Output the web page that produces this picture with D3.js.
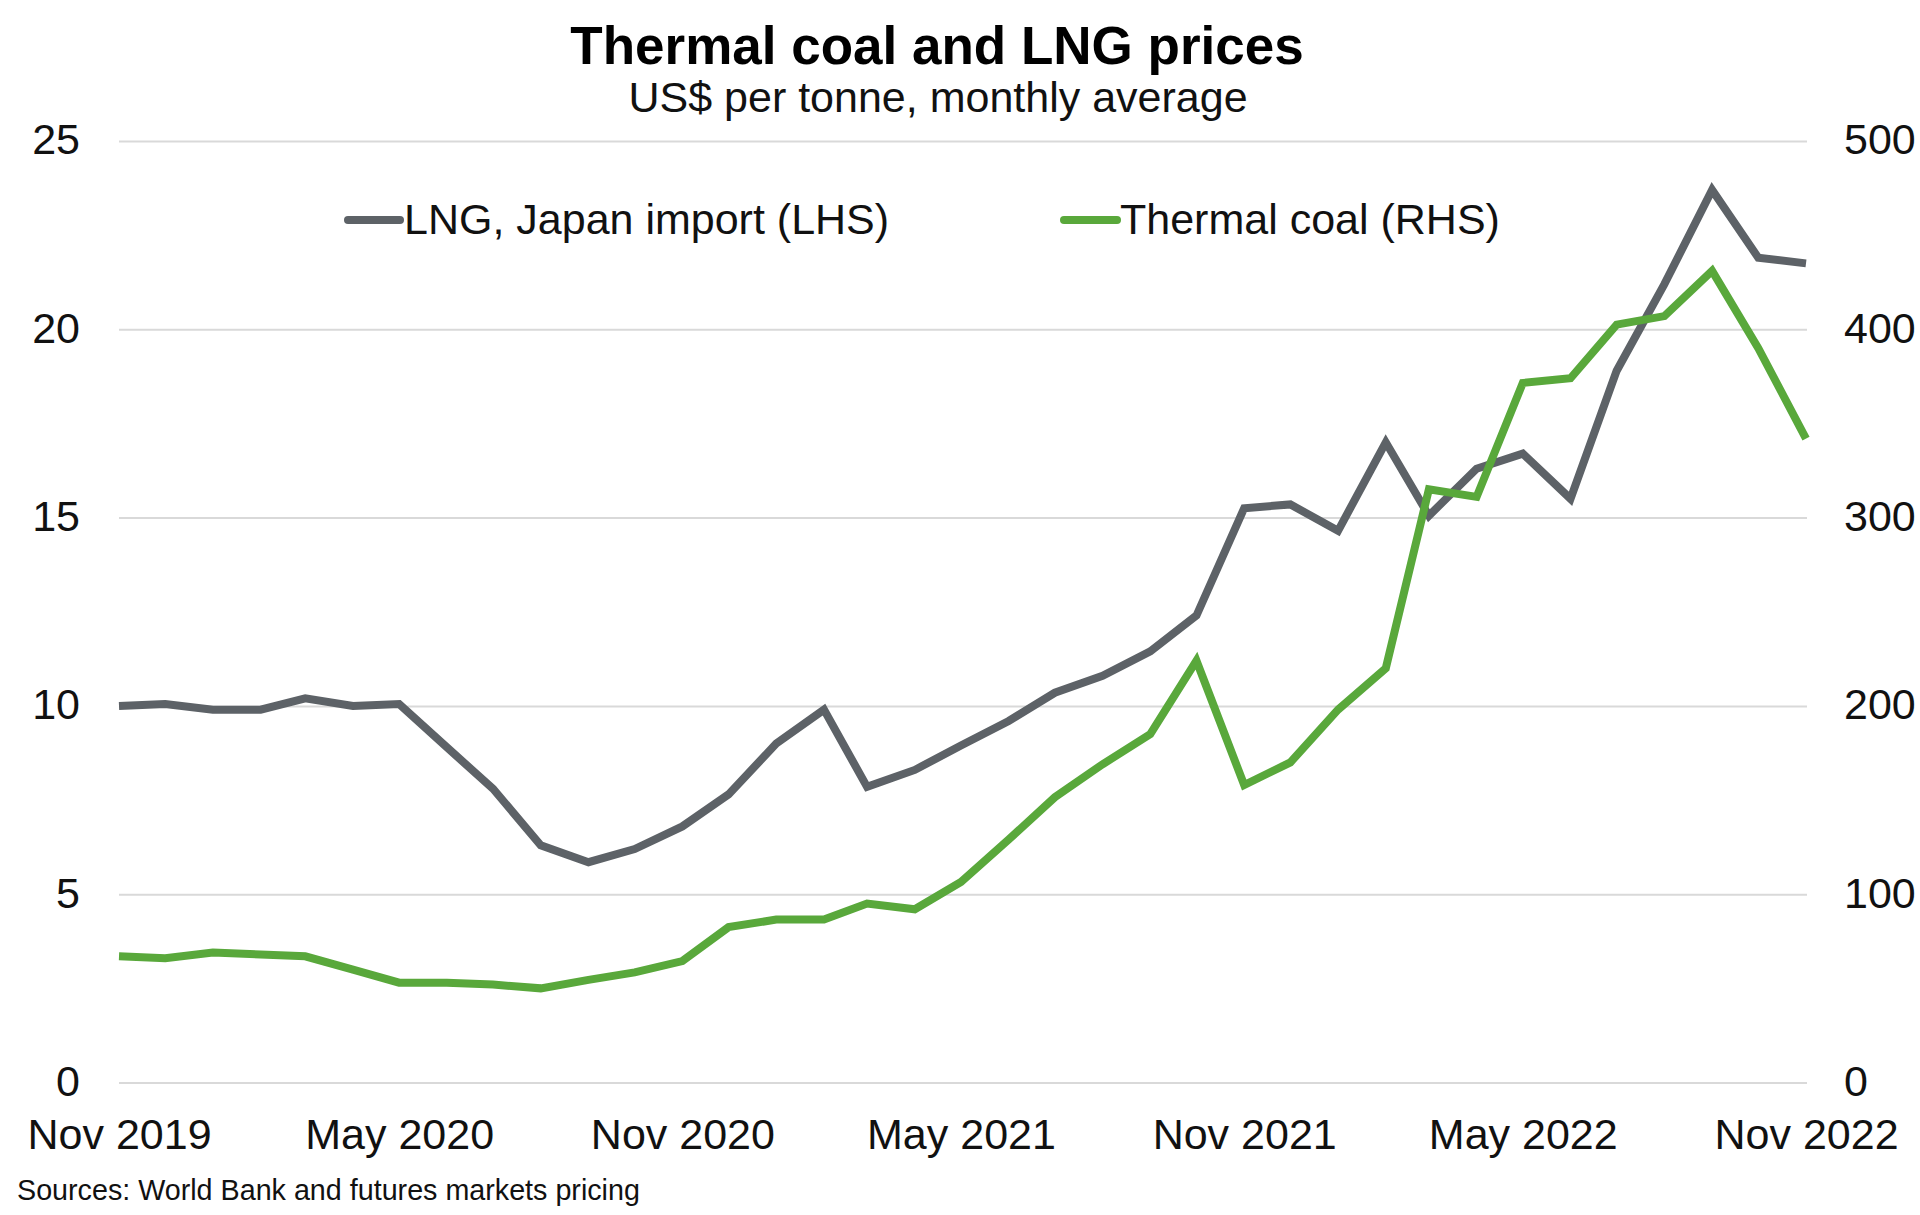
<!DOCTYPE html>
<html>
<head>
<meta charset="utf-8">
<script src="https://cdn.jsdelivr.net/npm/d3@7/dist/d3.min.js"></script>
<style>
  html, body { margin: 0; padding: 0; background: #fff; }
  svg { display: block; font-family: "Liberation Sans", Arial, sans-serif; }
</style>
</head>
<body>
<svg id="chart" width="1920" height="1215"></svg>
<script>
// ---- Data ----
const startMonth = "2019-11";
const lngValues = [
  10.0, 10.05, 9.9, 9.9, 10.2, 10.0, 10.05, 8.9, 7.8, 6.3, 5.85, 6.2,
  6.8, 7.65, 9.0, 9.9, 7.85, 8.3, 8.95, 9.6, 10.35, 10.8, 11.45, 12.4,
  15.25, 15.35, 14.65, 17.0, 15.05, 16.3, 16.7, 15.5, 18.9, 21.2, 23.7, 21.9, 21.75
];
const coalValues = [
  67, 66, 69, 68, 67, 60, 53, 53, 52, 50, 54.5, 58.5,
  64.5, 82.5, 86.5, 86.5, 95, 92, 106.5, 129, 151.5, 169, 185, 224,
  158, 170, 198, 220, 315, 311, 371.5, 374, 402.5, 407, 431, 390, 342
];
const xTickLabels = ["Nov 2019", "May 2020", "Nov 2020", "May 2021", "Nov 2021", "May 2022", "Nov 2022"];
const leftTicks = [0, 5, 10, 15, 20, 25];
const rightTicks = [0, 100, 200, 300, 400, 500];
const seriesNames = ["LNG, Japan import (LHS)", "Thermal coal (RHS)"];
const titleText = "Thermal coal and LNG prices";
const subtitleText = "US$ per tonne, monthly average";
const sourceText = "Sources: World Bank and futures markets pricing";

(function () {
// ---- Layout ----
const pL = 119, pR = 1806, pT = 141, pB = 1082.5;
const colLNG = "#5d6267", colCoal = "#59a83b", gridCol = "#d9d9d9";
const fontFam = "'Liberation Sans', Arial, sans-serif";

const parseMonth = d3.timeParse("%Y-%m");
const start = parseMonth(startMonth);
const dates = lngValues.map((_, i) => d3.timeMonth.offset(start, i));
const tickDates = xTickLabels.map(s => d3.timeParse("%b %Y")(s));

const x = d3.scaleTime().domain([dates[0], dates[dates.length - 1]]).range([pL, pR]);
const yL = d3.scaleLinear().domain([0, 25]).range([pB, pT]);
const yR = d3.scaleLinear().domain([0, 500]).range([pB, pT]);

const svg = d3.select("#chart");
svg.append("rect").attr("width", 1920).attr("height", 1215).attr("fill", "#fff");

// Gridlines
const grid = svg.append("g").attr("transform", `translate(${pL},0)`)
  .call(d3.axisLeft(yL).tickValues(leftTicks).tickSize(-(pR - pL + 1)).tickFormat(""));
grid.select(".domain").remove();
grid.selectAll("line").attr("stroke", gridCol).attr("stroke-width", 2);

// Left axis
const gL = svg.append("g").attr("transform", `translate(${pL},0)`)
  .call(d3.axisLeft(yL).tickValues(leftTicks).tickSize(0).tickPadding(39));
gL.select(".domain").remove();
gL.selectAll("text").attr("font-size", 43).attr("fill", "#111").attr("dy", "0.3em")
  .style("font-family", fontFam);

// Right axis
const gR = svg.append("g").attr("transform", `translate(${pR},0)`)
  .call(d3.axisRight(yR).tickValues(rightTicks).tickSize(0).tickPadding(38));
gR.select(".domain").remove();
gR.selectAll("text").attr("font-size", 43).attr("fill", "#111").attr("dy", "0.3em")
  .style("font-family", fontFam);

// Bottom axis
const gB = svg.append("g").attr("transform", `translate(0,${pB})`)
  .call(d3.axisBottom(x).tickValues(tickDates).tickSize(0)
    .tickFormat((d, i) => xTickLabels[i]));
gB.select(".domain").remove();
gB.selectAll("text").attr("font-size", 43).attr("fill", "#111")
  .attr("y", 66).attr("dy", 0)
  .style("font-family", fontFam);

// Lines
const lineL = d3.line().x((d, i) => x(dates[i])).y(d => yL(d));
const lineR = d3.line().x((d, i) => x(dates[i])).y(d => yR(d));

svg.append("path").datum(lngValues).attr("d", lineL)
  .attr("fill", "none").attr("stroke", colLNG).attr("stroke-width", 8)
  .attr("stroke-linejoin", "miter").attr("stroke-miterlimit", 3);
svg.append("path").datum(coalValues).attr("d", lineR)
  .attr("fill", "none").attr("stroke", colCoal).attr("stroke-width", 8)
  .attr("stroke-linejoin", "miter").attr("stroke-miterlimit", 3);

// Title
svg.append("text").attr("x", 937).attr("y", 64).attr("text-anchor", "middle")
  .attr("font-size", 53).attr("font-weight", "bold").attr("fill", "#000").text(titleText);
svg.append("text").attr("x", 938).attr("y", 112).attr("text-anchor", "middle")
  .attr("font-size", 43).attr("fill", "#111").text(subtitleText);

// Legend
const legend = [
  { name: seriesNames[0], color: colLNG, x1: 348, x2: 400, tx: 404 },
  { name: seriesNames[1], color: colCoal, x1: 1064, x2: 1117, tx: 1120 }
];
const lg = svg.append("g");
legend.forEach(l => {
  lg.append("line").attr("x1", l.x1).attr("x2", l.x2).attr("y1", 220).attr("y2", 220)
    .attr("stroke", l.color).attr("stroke-width", 8).attr("stroke-linecap", "round");
  lg.append("text").attr("x", l.tx).attr("y", 234).attr("font-size", 43).attr("fill", "#111").text(l.name);
});

// Source
svg.append("text").attr("x", 17).attr("y", 1200).attr("font-size", 28.7).attr("fill", "#111").text(sourceText);
})();
</script>
</body>
</html>
